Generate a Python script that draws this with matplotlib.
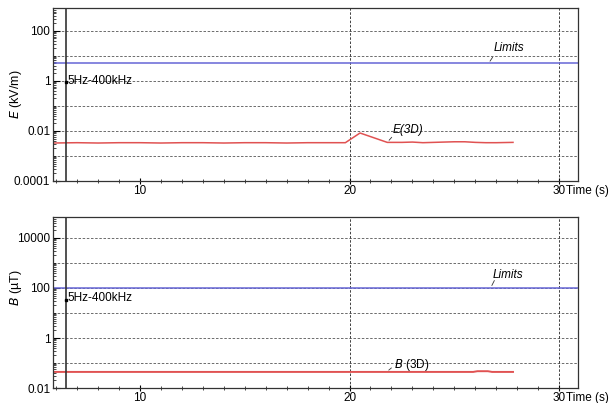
import numpy
from matplotlib import pyplot
from matplotlib.ticker import FixedLocator, LogLocator, NullFormatter

pyplot.rcParams["font.family"] = ["Liberation Sans", "DejaVu Sans"]
pyplot.rcParams["font.size"] = 8

# Measured field strengths
e_time = [5.85, 7, 8, 9, 10, 11, 12, 13, 14, 15, 16, 17, 18, 19, 19.8, 20.5, 21.8,
          22.5, 23, 23.5, 24.5, 25, 25.5, 26, 26.5, 27, 27.8]
e_vals = [0.0033, 0.0034, 0.0033, 0.0034, 0.0034, 0.0033, 0.0034, 0.0034, 0.0033,
          0.0034, 0.0034, 0.0033, 0.0034, 0.0034, 0.0034, 0.0083, 0.0035,
          0.0035, 0.0036, 0.0034, 0.0036, 0.0037, 0.0037, 0.0035, 0.0034, 0.0034, 0.0035]
b_time = [5.85, 10, 15, 20, 25, 25.9, 26.1, 26.6, 26.8, 27.8]
b_vals = [0.044, 0.044, 0.044, 0.044, 0.044, 0.044, 0.047, 0.047, 0.044, 0.044]

e_limit = 5.0      # kV/m
b_limit = 100.0    # uT
cursor_time = 6.47
band_label = "5Hz-400kHz"

e_ticks = [1e-4, 1e-2, 1, 100]
e_ticklabels = ["0.0001", "0.01", "1", "100"]
b_ticks = [1e-2, 1, 100, 1e4]
b_ticklabels = ["0.01", "1", "100", "10000"]
x_ticks = [10, 20, 30]

red = "#e05252"
blue = "#6666d6"

fig = pyplot.figure(figsize=(6.12, 4.03), dpi=100)
ax1 = fig.add_axes([0.0866, 0.5509, 0.8578, 0.4293])
ax2 = fig.add_axes([0.0866, 0.0372, 0.8578, 0.4243])


def setup(ax, ymin, ymax, ticks, ticklabels, ylabel, label_y):
    ax.set_yscale("log")
    ax.set_xlim(5.85, 30.9)
    ax.set_ylim(ymin, ymax)
    ax.set_yticks(ticks)
    ax.set_yticklabels(ticklabels)
    ax.yaxis.set_minor_locator(LogLocator(base=10, subs=numpy.arange(1, 10), numticks=20))
    ax.yaxis.set_minor_formatter(NullFormatter())
    ax.set_xticks(x_ticks)
    ax.xaxis.set_minor_locator(FixedLocator(numpy.arange(6, 31)))
    ax.tick_params(axis="y", which="major", direction="in", length=5, width=0.8, pad=2,
                   labelsize=8.5)
    ax.tick_params(axis="y", which="minor", direction="in", length=2.5, width=0.5)
    ax.tick_params(axis="x", which="major", direction="inout", length=5, width=0.8, pad=0.5,
                   labelsize=8.5)
    ax.tick_params(axis="x", which="minor", direction="inout", length=3, width=0.5)
    for s in ax.spines.values():
        s.set_linewidth(0.9)
        s.set_color("#333333")

    # decade grid
    lo = int(numpy.floor(numpy.log10(ymin)))
    hi = int(numpy.floor(numpy.log10(ymax)))
    for k in range(lo + 1, hi + 1):
        ax.axhline(10.0 ** k, color="#555555", lw=0.6, ls=(0, (3, 2)), zorder=1)
    for t in [20, 30]:
        ax.axvline(t, color="#222222", lw=0.6, ls=(0, (3, 2)), zorder=1)

    ax.axvline(cursor_time, color="#333333", lw=1.2, zorder=3)
    ax.annotate("Time (s)", xy=(1, 0), xycoords="axes fraction", xytext=(-8.6, -7.5),
                textcoords="offset points", fontsize=8.5, ha="left", va="center")
    ax.set_ylabel(ylabel, fontsize=9)
    ax.yaxis.set_label_coords(-0.056, label_y)


setup(ax1, 1e-4, 830, e_ticks, e_ticklabels, "$\\mathit{E}$ (kV/m)", 0.5)
setup(ax2, 1e-2, 6.9e4, b_ticks, b_ticklabels, "$\\mathit{B}$ (\u00b5T)", 0.585)

# E field panel
ax1.axhline(e_limit, color=blue, lw=1.1, zorder=2)
ax1.plot(e_time, e_vals, color=red, lw=1.1, zorder=2)
ax1.plot([cursor_time], [0.9], "ks", ms=2, zorder=4)
ax1.text(cursor_time + 0.05, 1.0, band_label, fontsize=8.5, va="center", ha="left")
ax1.text(27.6, 21, "Limits", fontsize=8.5, style="italic", ha="center", va="center")
ax1.annotate("", xy=(26.63, e_limit), xytext=(26.9, 11),
             arrowprops=dict(arrowstyle="-", lw=0.6, color="#333333"))
ax1.text(22.8, 0.011, "E(3D)", fontsize=8.5, style="italic", ha="center", va="center")
ax1.annotate("", xy=(21.8, 0.0035), xytext=(22.1, 0.0068),
             arrowprops=dict(arrowstyle="-", lw=0.6, color="#333333"))

# B field panel
ax2.axhline(b_limit, color=blue, lw=1.1, zorder=2)
ax2.plot(b_time, b_vals, color=red, lw=1.4, zorder=2)
ax2.plot([cursor_time], [33], "ks", ms=2, zorder=4)
ax2.text(cursor_time + 0.05, 40, band_label, fontsize=8.5, va="center", ha="left")
ax2.text(27.55, 330, "Limits", fontsize=8.5, style="italic", ha="center", va="center")
ax2.annotate("", xy=(26.73, b_limit), xytext=(26.97, 250),
             arrowprops=dict(arrowstyle="-", lw=0.6, color="#333333"))
ax2.text(22.96, 0.083, "$\\mathit{B}$ (3D)", fontsize=8.5, ha="center", va="center")
ax2.annotate("", xy=(21.77, 0.044), xytext=(22.1, 0.075),
             arrowprops=dict(arrowstyle="-", lw=0.6, color="#333333"))

pyplot.savefig("out.png", dpi=100)
